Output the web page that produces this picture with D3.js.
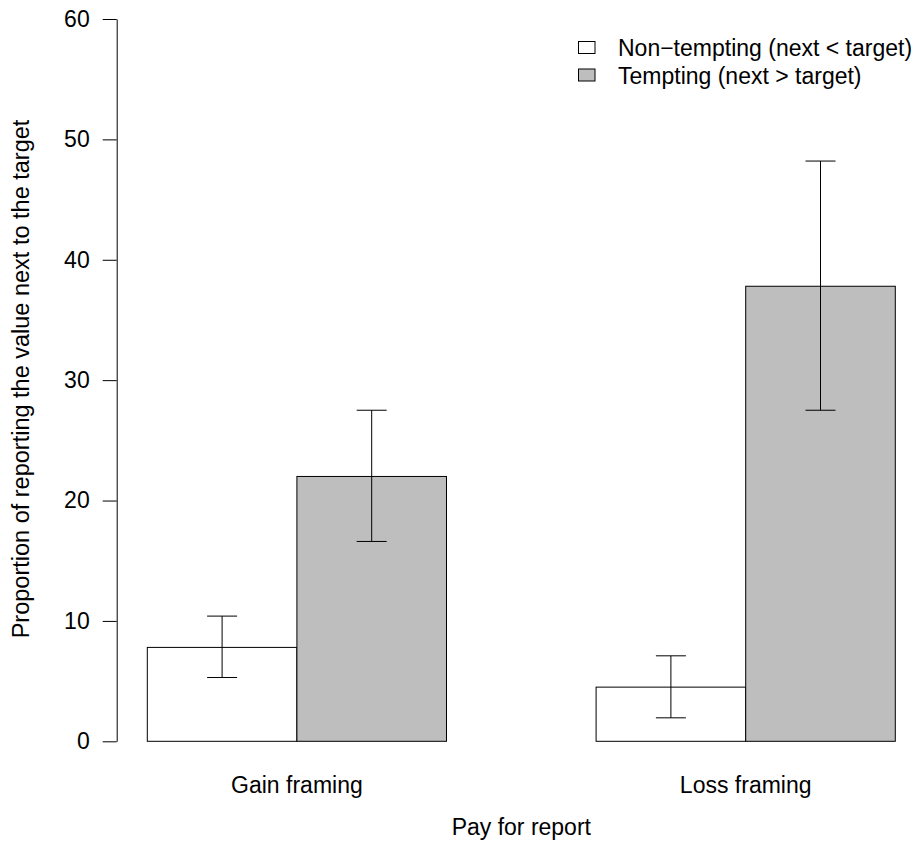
<!DOCTYPE html>
<head>
<meta charset="utf-8">
<title>Proportion of reporting the value next to the target</title>
<script type="text/javascript" src="https://cdn.jsdelivr.net/npm/d3@7/dist/d3.min.js"></script>
<style>
body { margin: 0; background: #fff; }
text { font-family: "Liberation Sans", Arial, sans-serif; font-size: 23px; fill: #000; }
.axis path, .axis line { fill: none; stroke: #000; stroke-width: 1px; }
.axis text { font-size: 23px; }
</style>
</head>
<body>
<script>
// data
var groups = ["Gain framing", "Loss framing"];
var series = ["Non\u2212tempting (next < target)", "Tempting (next > target)"];
var fills = ["#ffffff", "#bebebe"];
var means = [[7.8, 22.0], [4.5, 37.8]];
var lower = [[5.3, 16.6], [1.95, 27.5]];
var upper = [[10.4, 27.5], [7.1, 48.2]];
var yTicks = [0, 10, 20, 30, 40, 50, 60];

var width = 917, height = 841;

var svg = d3.select("body").append("svg")
	.attr("width", width)
	.attr("height", height);

// scales
var y = d3.scaleLinear().domain([0, 60]).range([741.3, 19]);
var x0 = d3.scaleBand().domain(groups).range([147.3, 895.3])
	.paddingInner(1 / 3).paddingOuter(0);
var x1 = d3.scaleBand().domain(series).range([0, x0.bandwidth()]).padding(0);

// y axis
svg.append("g")
	.attr("class", "axis")
	.attr("transform", "translate(116.7,0)")
	.call(d3.axisLeft(y).tickValues(yTicks).tickSize(14).tickSizeOuter(0).tickPadding(13))
	.call(function(g) { g.selectAll("text").attr("font-family", null).attr("font-size", null); });

// bars
var rows = [];
groups.forEach(function(gname, i) {
	series.forEach(function(s, j) {
		rows.push({group: gname, series: s, j: j, v: means[i][j], lo: lower[i][j], hi: upper[i][j]});
	});
});

svg.selectAll("rect.bar").data(rows).enter().append("rect")
	.attr("class", "bar")
	.attr("x", function(d) { return x0(d.group) + x1(d.series); })
	.attr("y", function(d) { return y(d.v); })
	.attr("width", x1.bandwidth())
	.attr("height", function(d) { return y(0) - y(d.v); })
	.style("fill", function(d) { return fills[d.j]; })
	.style("stroke", "#000")
	.style("stroke-width", 1);

// error bars
var cap = 15;
var err = svg.selectAll("g.err").data(rows).enter().append("g").attr("class", "err");
function cx(d) { return x0(d.group) + x1(d.series) + x1.bandwidth() / 2; }
err.append("line")
	.attr("x1", cx).attr("x2", cx)
	.attr("y1", function(d) { return y(d.lo); })
	.attr("y2", function(d) { return y(d.hi); });
err.append("line")
	.attr("x1", function(d) { return cx(d) - cap; }).attr("x2", function(d) { return cx(d) + cap; })
	.attr("y1", function(d) { return y(d.hi); }).attr("y2", function(d) { return y(d.hi); });
err.append("line")
	.attr("x1", function(d) { return cx(d) - cap; }).attr("x2", function(d) { return cx(d) + cap; })
	.attr("y1", function(d) { return y(d.lo); }).attr("y2", function(d) { return y(d.lo); });
err.selectAll("line").style("stroke", "#000").style("stroke-width", 1);

// group labels
svg.selectAll("text.grp").data(groups).enter().append("text")
	.attr("class", "grp")
	.attr("x", function(d) { return x0(d) + x0.bandwidth() / 2; })
	.attr("y", 792.7)
	.attr("text-anchor", "middle")
	.text(function(d) { return d; });

// axis titles
svg.append("text")
	.attr("x", 521.3)
	.attr("y", 834.5)
	.attr("text-anchor", "middle")
	.text("Pay for report");

svg.append("text")
	.attr("transform", "translate(28.5,379) rotate(-90)")
	.attr("text-anchor", "middle")
	.style("font-size", "23.5px")
	.text("Proportion of reporting the value next to the target");

// legend
var legend = svg.selectAll("g.leg").data(series).enter().append("g")
	.attr("class", "leg")
	.attr("transform", function(d, i) { return "translate(0," + (47.5 + i * 27.5) + ")"; });
legend.append("rect")
	.attr("x", 578.5).attr("y", -6)
	.attr("width", 16.5).attr("height", 12)
	.style("fill", function(d, i) { return fills[i]; })
	.style("stroke", "#000")
	.style("stroke-width", 1);
legend.append("text")
	.attr("x", 618)
	.attr("y", 8.5)
	.text(function(d) { return d; });
</script>
</body>
